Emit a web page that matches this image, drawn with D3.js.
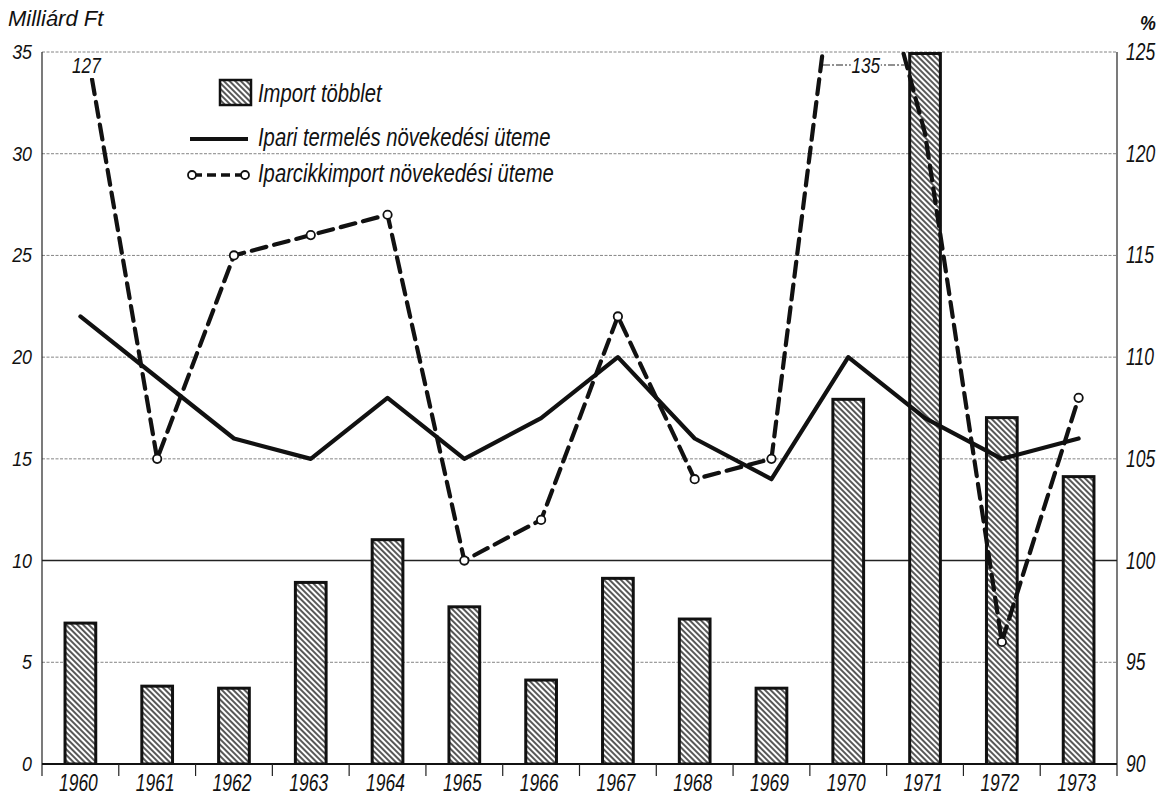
<!DOCTYPE html>
<html>
<head>
<meta charset="utf-8">
<script src="https://cdn.jsdelivr.net/npm/d3@7"></script>
<style>
  html, body { margin: 0; padding: 0; background: #fff; }
  svg { display: block; }
  text { font-family: "Liberation Sans", Arial, sans-serif; font-style: italic; fill: #111; }
</style>
</head>
<body>
<svg id="chart" width="1158" height="799"></svg>
<script>
// ---- data ----
const years = [1960, 1961, 1962, 1963, 1964, 1965, 1966, 1967, 1968, 1969, 1970, 1971, 1972, 1973];
const importSurplus = [7.0, 3.9, 3.8, 9.0, 11.1, 7.8, 4.2, 9.2, 7.2, 3.8, 18.0, 35, 17.1, 14.2];          // Milliárd Ft
const industryGrowth = [112, 109, 106, 105, 108, 105, 107, 110, 106, 104, 110, 107, 105, 106];           // %
const importGrowth = [127, 105, 115, 116, 117, 100, 102, 112, 104, 105, 135, 121, 96, 108];              // %
const unmarkedYears = [1960, 1970, 1971];
const leftTicks = [0, 5, 10, 15, 20, 25, 30, 35];
const rightTicks = [90, 95, 100, 105, 110, 115, 120, 125];
const leftTitle = "Milliárd Ft";
const rightTitle = "%";
const legendLabels = ["Import többlet", "Ipari termelés növekedési üteme", "Iparcikkimport növekedési üteme"];

// ---- layout ----
const svg = d3.select("#chart");
const m = { left: 42, right: 1117, top: 52, bottom: 764 };

const x = d3.scaleBand().domain(years).range([m.left, m.right]).padding(0);
const step = x.step();
const cx = yr => x(yr) + step / 2;
const yL = d3.scaleLinear().domain([0, 35]).range([m.bottom, m.top]);
const yR = d3.scaleLinear().domain([90, 125]).range([m.bottom, m.top]);

// condensed italic text helper
function txt(g, px, py, str, size, anchor, sx) {
  return g.append("text")
    .attr("transform", `translate(${px},${py}) scale(${sx || 0.8},1)`)
    .attr("text-anchor", anchor || "start")
    .attr("font-size", size).text(str);
}

// hatch pattern
const defs = svg.append("defs");
const pat = defs.append("pattern").attr("id", "hatch").attr("patternUnits", "userSpaceOnUse")
  .attr("width", 4).attr("height", 4).attr("patternTransform", "rotate(-45)");
pat.append("rect").attr("width", 4).attr("height", 4).attr("fill", "#fff");
pat.append("line").attr("x1", 1).attr("y1", 0).attr("x2", 1).attr("y2", 4)
  .attr("stroke", "#111").attr("stroke-width", 1.4);
defs.append("clipPath").attr("id", "plotclip").append("rect")
  .attr("x", m.left).attr("y", m.top).attr("width", m.right - m.left).attr("height", m.bottom - m.top);

// gridlines
svg.append("g").selectAll("line").data(leftTicks.filter(t => t !== 0)).join("line")
  .attr("x1", m.left).attr("x2", m.right)
  .attr("y1", d => yL(d)).attr("y2", d => yL(d))
  .attr("stroke", d => d === 10 ? "#222" : "#666")
  .attr("stroke-width", d => d === 10 ? 1.6 : 0.8)
  .attr("stroke-dasharray", d => d === 10 ? null : "3,1.5");

// left & right axis lines
svg.append("line").attr("x1", m.left).attr("x2", m.left).attr("y1", m.top).attr("y2", m.bottom + 12)
  .attr("stroke", "#222").attr("stroke-width", 1.2);
svg.append("line").attr("x1", m.right).attr("x2", m.right).attr("y1", m.top).attr("y2", m.bottom + 12)
  .attr("stroke", "#222").attr("stroke-width", 1.2);

// bars
svg.append("g").attr("clip-path", "url(#plotclip)").selectAll("rect").data(years).join("rect")
  .attr("x", d => x(d) + step * 0.3)
  .attr("width", step * 0.4)
  .attr("y", (d, i) => yL(importSurplus[i]) + 1.5)
  .attr("height", (d, i) => yL(0) - yL(importSurplus[i]) - 1.5)
  .attr("fill", "url(#hatch)").attr("stroke", "#111").attr("stroke-width", 3);

// bottom axis
svg.append("line").attr("x1", m.left).attr("x2", m.right).attr("y1", m.bottom).attr("y2", m.bottom)
  .attr("stroke", "#111").attr("stroke-width", 2.2);
svg.append("g").selectAll("line").data(years.slice(1)).join("line")
  .attr("x1", d => x(d)).attr("x2", d => x(d)).attr("y1", m.bottom).attr("y2", m.bottom + 12)
  .attr("stroke", "#222").attr("stroke-width", 1.2);
const gx = svg.append("g");
years.forEach(yr => txt(gx, cx(yr) - 2, m.bottom + 27, yr, 23, "middle", 0.76));

// left tick labels
const gl = svg.append("g");
leftTicks.forEach(t => txt(gl, 32, yL(t) + 7, t, 21, "end", 0.85));
txt(svg, 8, 26, leftTitle, 22, "start", 1.0);

// right tick labels
const gr = svg.append("g");
rightTicks.forEach(t => txt(gr, 1126, yR(t) + 8, t, 23, "start", 0.76));
txt(svg, 1140, 30, rightTitle, 21, "start", 0.85).attr("font-weight", "bold");

// industrial production line (solid)
const lineInd = d3.line().x((d, i) => cx(years[i])).y(d => yR(d));
svg.append("path").datum(industryGrowth).attr("d", lineInd)
  .attr("fill", "none").attr("stroke", "#111").attr("stroke-width", 4.2)
  .attr("stroke-linejoin", "round").attr("stroke-linecap", "round");

// import growth line (dashed)
svg.append("path").datum(importGrowth).attr("d", lineInd).attr("clip-path", "url(#plotclip)")
  .attr("fill", "none").attr("stroke", "#111").attr("stroke-width", 4.2)
  .attr("stroke-dasharray", "15,8").attr("stroke-linecap", "round");

svg.append("g").selectAll("circle")
  .data(years.map((yr, i) => ({ yr, v: importGrowth[i] })).filter(d => !unmarkedYears.includes(d.yr)))
  .join("circle")
  .attr("cx", d => cx(d.yr)).attr("cy", d => yR(d.v)).attr("r", 4.2)
  .attr("fill", "#fff").attr("stroke", "#111").attr("stroke-width", 1.8);

// off-scale labels
function segX(i, v) { // x where segment i -> i+1 of importGrowth hits value v
  const a = importGrowth[i], b = importGrowth[i + 1];
  return cx(years[i]) + (cx(years[i + 1]) - cx(years[i])) * (v - a) / (b - a);
}
// 127
const i60 = years.indexOf(1960);
const lab127x = cx(1960) + 6;
svg.append("rect").attr("x", lab127x - 16).attr("y", m.top + 2).attr("width", 32).attr("height", 24).attr("fill", "#fff");
txt(svg, lab127x, m.top + 21, importGrowth[i60], 22, "middle", 0.78);
// 135 with leader line
const i70 = years.indexOf(1970);
const leadV = yR.invert(m.top + 13);
const lx1 = segX(i70 - 1, leadV), lx2 = segX(i70, leadV);
svg.append("line").attr("x1", lx1 + 2).attr("x2", lx2 - 2).attr("y1", yR(leadV)).attr("y2", yR(leadV))
  .attr("stroke", "#222").attr("stroke-width", 1).attr("stroke-dasharray", "7,2,2,2");
const lab135x = (lx1 + lx2) / 2 + 2;
svg.append("rect").attr("x", lab135x - 15).attr("y", m.top + 3).attr("width", 30).attr("height", 22).attr("fill", "#fff");
txt(svg, lab135x, m.top + 21, importGrowth[i70], 22, "middle", 0.78);

// legend
const lg = svg.append("g");
lg.append("rect").attr("x", 220).attr("y", 80).attr("width", 31).attr("height", 25)
  .attr("fill", "url(#hatch)").attr("stroke", "#111").attr("stroke-width", 2.5);
txt(lg, 258, 102, legendLabels[0], 25, "start", 0.81);
lg.append("line").attr("x1", 190).attr("x2", 248).attr("y1", 139).attr("y2", 139)
  .attr("stroke", "#111").attr("stroke-width", 4);
txt(lg, 258, 146, legendLabels[1], 25, "start", 0.81);
lg.append("line").attr("x1", 193).attr("x2", 244).attr("y1", 175).attr("y2", 175)
  .attr("stroke", "#111").attr("stroke-width", 3.5).attr("stroke-dasharray", "9,5");
lg.selectAll("circle.lg").data([192, 245]).join("circle")
  .attr("cx", d => d).attr("cy", 175).attr("r", 4).attr("fill", "#fff").attr("stroke", "#111").attr("stroke-width", 1.8);
txt(lg, 258, 182, legendLabels[2], 25, "start", 0.81);
</script>
</body>
</html>
